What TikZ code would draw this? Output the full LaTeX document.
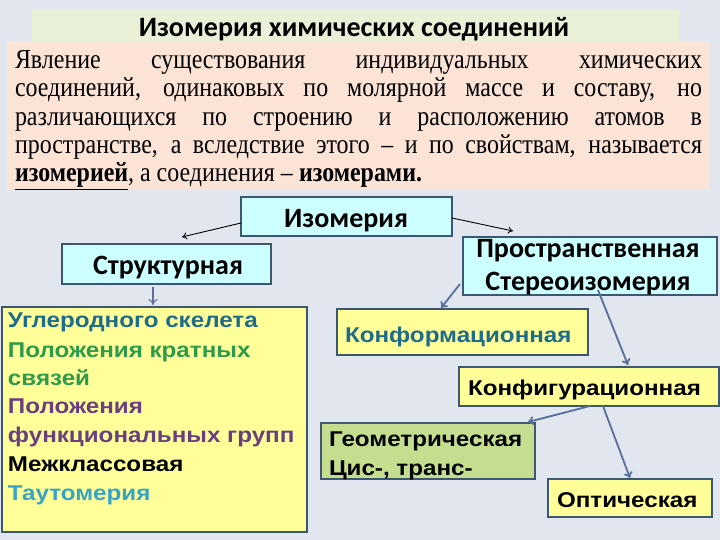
\documentclass[tikz,border=0pt]{standalone}
\usepackage{fontspec}
\setmainfont[FakeStretch=0.87]{Liberation Serif}
\newfontfamily\calfont{Carlito}
\newfontfamily\arfont[FakeStretch=1.13]{Liberation Sans}
\usetikzlibrary{arrows.meta,calc}
\definecolor{bgc}{HTML}{E2E6EE}
\definecolor{titlegreen}{HTML}{E8F1D7}
\definecolor{peach}{HTML}{FBE4D5}
\definecolor{cyanbox}{HTML}{CCFFFF}
\definecolor{boxborder}{HTML}{3E5770}
\definecolor{yelbox}{HTML}{FFFF99}
\definecolor{geomgreen}{HTML}{C4DD8F}
\definecolor{arrowblue}{HTML}{5B6F9B}
\definecolor{tealtxt}{HTML}{1F6B8B}
\definecolor{greentxt}{HTML}{2E9A4B}
\definecolor{purptxt}{HTML}{6B3E80}
\definecolor{skytxt}{HTML}{36A4C9}
\tikzset{
  plain/.style={inner sep=0pt, outer sep=0pt},
  cbox/.style={plain, draw=boxborder, line width=1.3pt, fill=cyanbox},
  ybox/.style={plain, draw=boxborder, line width=1.3pt, fill=yelbox},
  gbox/.style={plain, draw=boxborder, line width=1.3pt, fill=geomgreen},
  ctext/.style={plain, anchor=base, font=\calfont\bfseries\fontsize{28}{32}\selectfont},
  atext/.style={plain, anchor=base west, font=\arfont\bfseries\fontsize{21.4}{25}\selectfont},
  ptext/.style={plain, anchor=base west, font=\fontsize{27.5}{31}\selectfont},
  blk/.style={-{To[length=5pt,width=7pt]}, line width=0.9pt, black},
  blu/.style={-{To[length=6pt,width=9pt]}, line width=1.8pt, draw=arrowblue},
}
\begin{document}
\begin{tikzpicture}[x=1pt,y=-1pt]
\useasboundingbox (0,0) rectangle (720,540);
\fill[bgc] (0,0) rectangle (720,540);
% title and definition
\node[plain, fill=titlegreen, minimum width=647pt, minimum height=41pt] (titlebox) at (355.5,29.5) {};
\node[plain, anchor=base, font=\calfont\bfseries\fontsize{28}{32}\selectfont] (titletext) at (354,37) {Изомерия химических соединений};
\node[plain, fill=peach, minimum width=703pt, minimum height=149pt] (defbox) at (358.5,115.5) {};
\node[ptext] (p1) at (15,69) {\makebox[687pt][s]{Явление существования индивидуальных химических}};
\node[ptext] (p2) at (15,97) {\makebox[687pt][s]{соединений, одинаковых по молярной массе и составу, но}};
\node[ptext] (p3) at (15,126) {\makebox[687pt][s]{различающихся по строению и расположению атомов в}};
\node[ptext] (p4) at (15,154) {\makebox[687pt][s]{пространстве, а вследствие этого – и по свойствам, называется}};
\node[ptext] (p5) at (15,182) {\underline{\textbf{изомерией}}, а соединения – \textbf{изомерами.}};
% boxes
\node[cbox, minimum width=211pt, minimum height=39pt] (iso) at (346.5,216.5) {};
\node[ctext] (isoT) at (346,227) {Изомерия};
\node[cbox, minimum width=209pt, minimum height=40pt] (struct) at (166.5,264) {};
\node[ctext] (structT) at (168,274) {Структурная};
\node[cbox, minimum width=254pt, minimum height=58pt] (stereo) at (590,266) {};
\node[ctext] (stereoT1) at (588,257) {Пространственная};
\node[ctext] (stereoT2) at (588,290) {Стереоизомерия};
\node[ybox, minimum width=305pt, minimum height=225pt] (left) at (154.5,419.5) {};
\node[atext, text=tealtxt] (l1) at (8,327) {Углеродного скелета};
\node[atext, text=greentxt] (l2) at (8,357) {Положения кратных};
\node[atext, text=greentxt] (l3) at (8,385) {связей};
\node[atext, text=purptxt] (l4) at (8,413) {Положения};
\node[atext, text=purptxt] (l5) at (8,442) {функциональных групп};
\node[atext, text=black] (l6) at (8,471) {Межклассовая};
\node[atext, text=skytxt] (l7) at (8,500) {Таутомерия};
\node[ybox, minimum width=251pt, minimum height=46pt] (konform) at (462.5,332) {};
\node[atext, text=tealtxt] (konformT) at (345,342) {Конформационная};
\node[ybox, minimum width=260pt, minimum height=39pt] (konfig) at (589,386.5) {};
\node[atext] (konfigT) at (468,395) {Конфигурационная};
\node[gbox, minimum width=214pt, minimum height=56pt] (geom) at (428,451) {};
\node[atext] (geomT1) at (329,446) {Геометрическая};
\node[atext] (geomT2) at (329,475) {Цис-, транс-};
\node[ybox, minimum width=164pt, minimum height=38pt] (optic) at (630,498) {};
\node[atext] (opticT) at (557,507) {Оптическая};
% arrow end points
\coordinate (e1) at (182,237);
\coordinate (e2) at (513,231);
\coordinate (e3) at (153,305);
\coordinate (e4) at (441,308);
\coordinate (e5) at (628,365);
\coordinate (e6) at (528,422);
\coordinate (e7) at (630,478);
\draw[blk] ([yshift=-6.5pt]iso.west) -- (e1);
\draw[blk] ([yshift=-1.5pt]iso.east) -- (e2);
\draw[blu, line width=1.1pt] ([xshift=-13.5pt,yshift=-3pt]struct.south) -- (e3);
\draw[blu] ([xshift=-3pt,yshift=11pt]stereo.south west) -- (e4);
\draw[blu] ([xshift=8pt,yshift=5pt]stereo.south) -- (e5);
\draw[blu] ([xshift=1pt]konfig.south) -- (e6);
\draw[blu] ([xshift=14pt]konfig.south) -- (e7);
\end{tikzpicture}
\end{document}
